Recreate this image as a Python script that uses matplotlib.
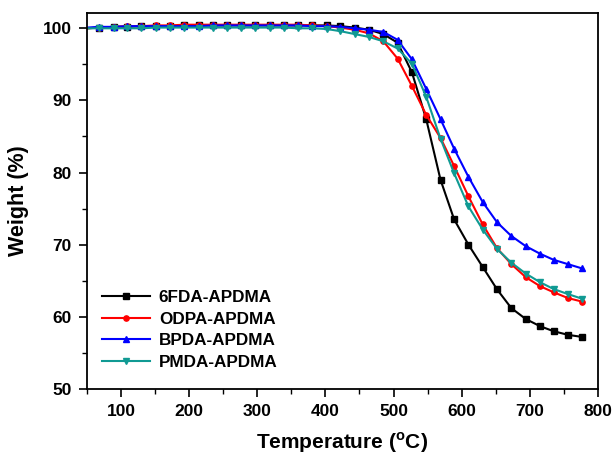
import matplotlib
matplotlib.use("Agg")
import matplotlib.pyplot as plt
from matplotlib.ticker import MultipleLocator

plt.rcParams['font.family'] = ['Liberation Sans', 'DejaVu Sans']
plt.rcParams['font.weight'] = 'bold'
plt.rcParams['mathtext.fontset'] = 'custom'
plt.rcParams['mathtext.rm'] = 'Liberation Sans:bold'
plt.rcParams['mathtext.bf'] = 'Liberation Sans:bold'

temperature = [50, 68, 89, 109, 130, 151, 172, 193, 214, 235, 256, 276, 297, 318, 339, 360, 381,
               402, 422, 443, 464, 485, 506, 527, 548, 569, 589, 610, 631, 652, 673, 694,
               715, 735, 756, 777]

w_6fda = [100.0, 100.1, 100.2, 100.2, 100.3, 100.3, 100.3, 100.4, 100.4, 100.4, 100.4, 100.4, 100.4,
          100.4, 100.4, 100.4, 100.4, 100.4, 100.3, 100.1, 99.8, 99.2, 98.0, 93.9, 87.4,
          79.0, 73.5, 70.0, 66.9, 63.8, 61.2, 59.7, 58.7, 58.0, 57.5, 57.2]
w_odpa = [100.0, 100.1, 100.2, 100.3, 100.3, 100.4, 100.4, 100.5, 100.5, 100.5, 100.5, 100.5, 100.5,
          100.5, 100.5, 100.5, 100.4, 100.3, 100.1, 99.8, 99.3, 98.2, 95.8, 92.0, 88.0,
          84.8, 80.9, 76.7, 72.8, 69.5, 67.3, 65.5, 64.25, 63.4, 62.6, 62.1]
w_bpda = [100.1, 100.2, 100.2, 100.3, 100.3, 100.3, 100.3, 100.3, 100.3, 100.4, 100.4, 100.4, 100.4,
          100.4, 100.4, 100.4, 100.3, 100.3, 100.2, 100.0, 99.8, 99.5, 98.4, 95.7, 91.6,
          87.4, 83.3, 79.4, 75.9, 73.1, 71.2, 69.8, 68.75, 67.9, 67.3, 66.7]
w_pmda = [100.0, 100.0, 100.0, 100.0, 100.0, 100.1, 100.1, 100.1, 100.1, 100.1, 100.1, 100.1, 100.1,
          100.1, 100.1, 100.0, 100.0, 99.9, 99.6, 99.2, 98.8, 98.2, 97.2, 95.1, 90.5,
          84.7, 79.9, 75.3, 72.1, 69.4, 67.5, 66.0, 64.8, 63.85, 63.15, 62.5]

labels = ['6FDA-APDMA', 'ODPA-APDMA', 'BPDA-APDMA', 'PMDA-APDMA']
colors = ['#000000', '#FF0000', '#0000FF', '#109A93']
markers = ['s', 'o', '^', 'v']
series = [w_6fda, w_odpa, w_bpda, w_pmda]

fig = plt.figure(figsize=(6.14, 4.57), dpi=100)
ax = fig.add_axes([0.1417, 0.149, 0.832, 0.823])

for s, lab, c, m in zip(series, labels, colors, markers):
    ax.plot(temperature, s, color=c, marker=m, markersize=3.8, linewidth=1.5,
            markevery=slice(1, None), label=lab)

ax.set_xlim(50, 800)
ax.set_ylim(50, 102.15)
ax.xaxis.set_major_locator(MultipleLocator(100))
ax.xaxis.set_minor_locator(MultipleLocator(50))
ax.yaxis.set_major_locator(MultipleLocator(10))
ax.yaxis.set_minor_locator(MultipleLocator(5))
ax.tick_params(which='major', direction='out', length=6, width=1.2, labelsize=12.5, pad=5,
               top=False, right=False)
ax.tick_params(which='minor', direction='out', length=3.5, width=1.0, top=False, right=False)
for lbl in ax.get_xticklabels() + ax.get_yticklabels():
    lbl.set_fontweight('bold')
for sp in ax.spines.values():
    sp.set_linewidth(1.3)

ax.set_xlabel(r'Temperature ($^{\mathrm{o}}$C)', fontsize=15, fontweight='bold', labelpad=8)
ax.set_ylabel('Weight (%)', fontsize=15.5, fontweight='bold', labelpad=10)

leg = ax.legend(loc='lower left', bbox_to_anchor=(0.0, 0.01), frameon=False,
                prop={'weight': 'bold', 'size': 12.3}, handlelength=2.8,
                labelspacing=0.38, handletextpad=0.5)

fig.savefig('out.png', dpi=100)
